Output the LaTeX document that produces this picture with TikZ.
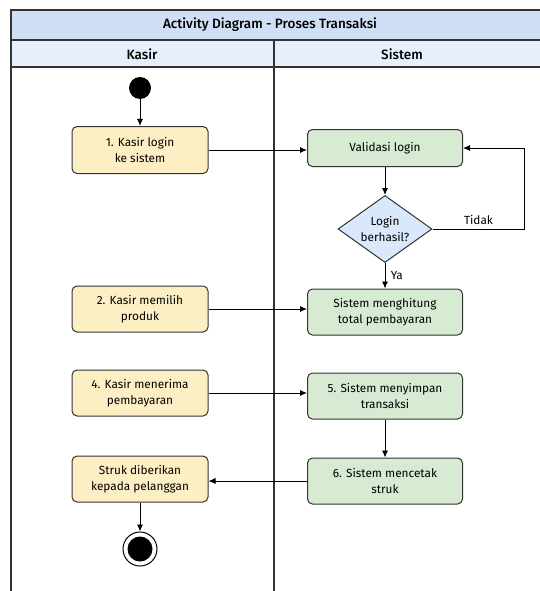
\documentclass[tikz,border=0pt]{standalone}
\usepackage{fontspec}
\setmainfont{Fira Sans}
\newfontfamily\titlefont{Fira Sans Medium}
\usepackage{xcolor}
\definecolor{kasirfill}{HTML}{FDEFC4}
\definecolor{sistemfill}{HTML}{D7EBD3}
\definecolor{decfill}{HTML}{DAE8FC}
\definecolor{titlefill}{HTML}{CFDFF5}
\definecolor{headfill}{HTML}{E6EFFB}
\definecolor{linegray}{HTML}{333333}
\usetikzlibrary{arrows.meta,shapes.geometric}

\begin{document}
\begin{tikzpicture}[x=1pt, y=-1pt, every node/.style={font=\fontsize{11.8}{16}\selectfont},
  kasirbox/.style={draw=linegray, line width=1pt, fill=kasirfill, rounded corners=5pt, minimum width=136pt, minimum height=46pt, align=center},
  sistembox/.style={draw=linegray, line width=1pt, fill=sistemfill, rounded corners=5pt, minimum width=155pt, minimum height=46pt, align=center},
  headtext/.style={font=\titlefont\fontsize{13.5}{16}\selectfont},
  flow/.style={-{Latex[length=7pt,width=6pt]}, line width=0.9pt, black},
  lane/.style={line width=1.3pt, linegray}]
\useasboundingbox (0,0) rectangle (540,591);
% Swimlanes
\fill[titlefill] (11,10) rectangle (540,40);
\fill[headfill] (11,40) rectangle (540,67);
\draw[lane] (540,10) -- (11,10) -- (11,591);
\draw[lane] (11,40) -- (540,40);
\draw[lane] (11,67) -- (540,67);
\draw[lane] (274,40) -- (274,591);
\node[headtext] (title) at (270,25) {Activity Diagram - Proses Transaksi};
\node[headtext] (kasir) at (142,54) {Kasir};
\node[headtext] (sistem) at (402,54) {Sistem};
% Kasir
\node[circle, fill=black, minimum size=22pt, inner sep=0pt] (start) at (140,88) {};
\node[kasirbox, minimum height=47pt] (login) at (140,150) {1. Kasir login\\ke sistem};
\node[kasirbox] (produk) at (140,309) {2. Kasir memilih\\produk};
\node[kasirbox] (terima) at (140,393) {4. Kasir menerima\\pembayaran};
\node[kasirbox] (struk) at (140,479) {Struk diberikan\\kepada pelanggan};
\node[circle, draw=black, line width=1pt, fill=white, minimum size=34pt, inner sep=0pt] (stop) at (140,549) {};
\fill (stop.center) circle (12.5pt);
% Sistem
\node[sistembox, minimum height=37pt] (validasi) at (385,148) {Validasi login};
\node[diamond, draw=linegray, line width=1pt, fill=decfill, aspect=1.4, inner sep=0pt, minimum width=94pt, minimum height=67pt, align=center] (cek) at (385,229) {Login\\berhasil?};
\node[sistembox] (hitung) at (385,312) {Sistem menghitung\\total pembayaran};
\node[sistembox] (simpan) at (385,396) {5. Sistem menyimpan\\transaksi};
\node[sistembox] (cetak) at (385,481) {6. Sistem mencetak\\struk};
% Flows
\draw[flow] (start) -- (login);
\draw[flow] (login.east) -- (login.east -| validasi.west);
\draw[flow] (validasi) -- (cek);
\draw[flow] (cek.east) -- node[above=1pt] {Tidak} ++(92,0) |- (validasi.east);
\draw[flow] (cek) -- node[right=2pt] {Ya} (hitung);
\draw[flow] (produk.east) -- (produk.east -| hitung.west);
\draw[flow] (terima.east) -- (terima.east -| simpan.west);
\draw[flow] (simpan) -- (cetak);
\draw[flow] (cetak.west) -- (cetak.west -| struk.east);
\draw[flow] (struk) -- (stop);
\end{tikzpicture}
\end{document}
